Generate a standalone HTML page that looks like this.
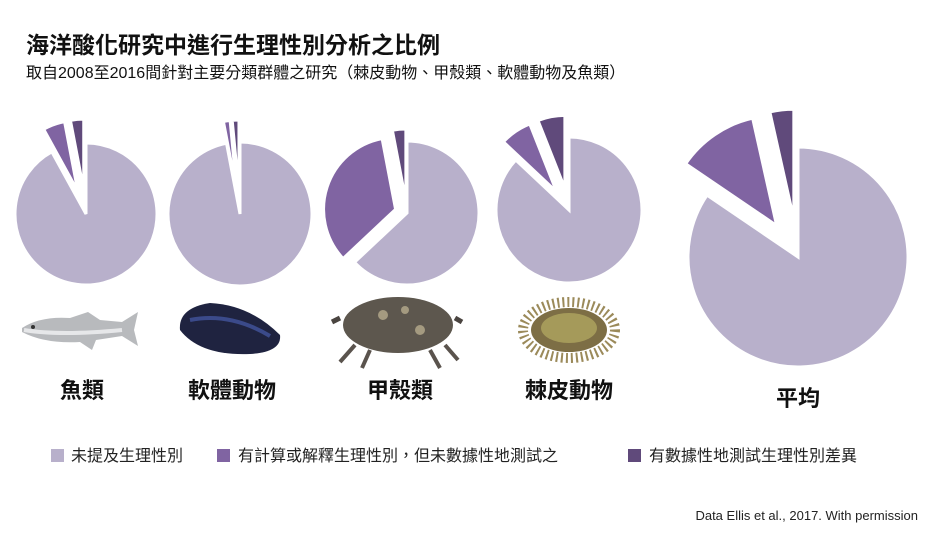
<!DOCTYPE html>
<html><head><meta charset="utf-8"><style>
body{margin:0;background:#fff;width:944px;height:534px;overflow:hidden;font-family:"Liberation Sans","Noto Sans CJK TC",sans-serif}
svg text{font-family:"Liberation Sans","Noto Sans CJK TC",sans-serif}
</style></head><body>
<svg id="chart" width="944" height="534" viewBox="0 0 944 534">
<text x="26" y="53" font-size="23" font-weight="bold" fill="#111">海洋酸化研究中進行生理性別分析之比例</text>
<text x="26" y="78" font-size="16" fill="#111">取自2008至2016間針對主要分類群體之研究（棘皮動物、甲殼類、軟體動物及魚類）</text>
<g id="pies"></g>
<g>
<path d="M22,328 Q40,316 70,318 L88,312 L100,320 L122,322 L138,312 L134,330 L138,346 L122,336 L96,340 L92,350 L80,342 Q45,344 22,332 Z" fill="#b8babd"/>
<path d="M24,330 Q60,336 122,330" stroke="#e6e7e9" stroke-width="4" fill="none"/>
<circle cx="33" cy="327" r="2" fill="#333"/></g>
<g>
<path d="M180,330 Q178,308 210,303 Q250,305 280,335 Q282,352 250,354 Q200,356 180,330 Z" fill="#1f2340"/>
<path d="M190,320 Q230,312 270,336" stroke="#3b4a8a" stroke-width="4" fill="none"/></g>
<g>
<path d="M340,318 L332,322 M455,318 L462,322" stroke="#4a4440" stroke-width="5"/>
<path d="M355,345 L340,362 M370,350 L362,368 M430,350 L440,368 M445,345 L458,360" stroke="#5a534d" stroke-width="4"/>
<ellipse cx="398" cy="325" rx="55" ry="28" fill="#5d574e"/>
<circle cx="383" cy="315" r="5" fill="#a49a80"/><circle cx="405" cy="310" r="4" fill="#a49a80"/><circle cx="420" cy="330" r="5" fill="#a49a80"/></g>
<g>
<ellipse cx="569" cy="330" rx="46" ry="28" fill="none" stroke="#9b8a5a" stroke-width="10" stroke-dasharray="2 3"/>
<ellipse cx="569" cy="330" rx="38" ry="22" fill="#7d6e45"/>
<ellipse cx="569" cy="328" rx="28" ry="15" fill="#a59a5a"/></g>
<g font-size="22" font-weight="bold" fill="#111" text-anchor="middle">
<text x="82" y="398">魚類</text>
<text x="232" y="398">軟體動物</text>
<text x="400" y="398">甲殼類</text>
<text x="569" y="398">棘皮動物</text>
<text x="798" y="406">平均</text>
</g>
<g font-size="16" fill="#222">
<g><rect x="51" y="449" width="13" height="13" fill="#b8b0cb"/><text x="71" y="461">未提及生理性別</text></g>
<g><rect x="217" y="449" width="13" height="13" fill="#8064a2"/><text x="238" y="461">有計算或解釋生理性別，但未數據性地測試之</text></g>
<g><rect x="628" y="449" width="13" height="13" fill="#604a7b"/><text x="649" y="461">有數據性地測試生理性別差異</text></g>
</g>
<text x="918" y="520" font-size="13" fill="#222" text-anchor="end">Data Ellis et al., 2017. With permission</text>
</svg>
<script>
const groups=["fish","mollusk","crustacean","echinoderm","average"];
const testedPct=[3,1.5,3,6,3.5];
const consideredPct=[5,1.5,34,7,12];
const cx=[86,240,407,569,798],cy=[214,214,213,210,257],rr=[71,72,72,73,110],ex=[24,22,12,22,38];
const cols=["#b8b0cb","#8064a2","#604a7b"];
const NS="http://www.w3.org/2000/svg";
const g=document.getElementById('pies');
function pt(x,y,r,a){const t=a*Math.PI/180;return [x+r*Math.sin(t),y-r*Math.cos(t)];}
function slice(x,y,r,a0,a1,col,name){
 const p0=pt(x,y,r,a0),p1=pt(x,y,r,a1);const large=(a1-a0)>180?1:0;
 const p=document.createElementNS(NS,'path');
 p.setAttribute('d',`M${x},${y}L${p0[0]},${p0[1]}A${r},${r} 0 ${large} 1 ${p1[0]},${p1[1]}Z`);
 p.setAttribute('fill',col);p.setAttribute('stroke','#fff');p.setAttribute('stroke-width','3');p.setAttribute('stroke-linejoin','miter');
 
 
 g.appendChild(p);
}
groups.forEach((n,i)=>{
 const d=testedPct[i]*3.6,m=consideredPct[i]*3.6;
 slice(cx[i],cy[i],rr[i],0,360-d-m,cols[0],n+'-slice-not-mentioned');
 const mm=-(d+m/2),md=-(d/2);
 const pm=pt(0,0,ex[i],mm);slice(cx[i]+pm[0],cy[i]+pm[1],rr[i],-d-m,-d,cols[1],n+'-slice-considered');
 const pd=pt(0,0,ex[i],md);slice(cx[i]+pd[0],cy[i]+pd[1],rr[i],-d,0,cols[2],n+'-slice-tested');
});
</script>
</body></html>
